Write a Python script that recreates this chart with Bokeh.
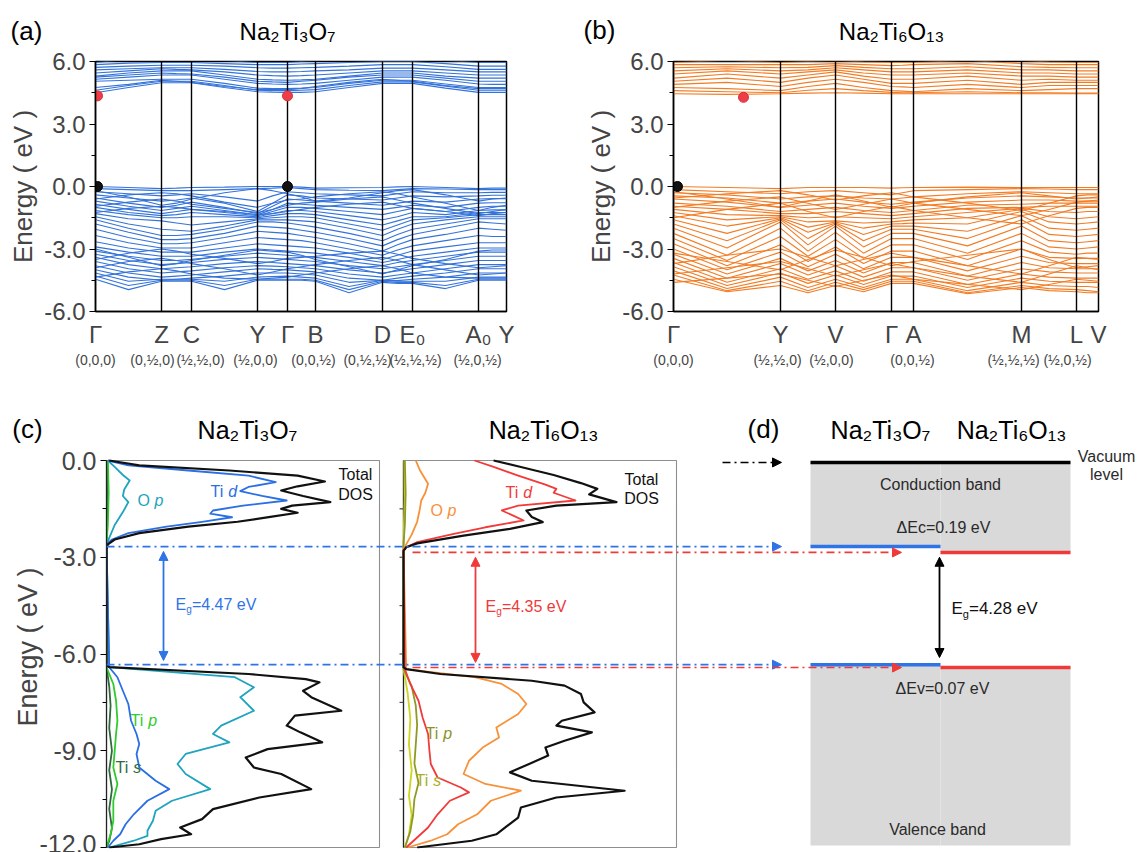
from bokeh.plotting import figure
from bokeh.layouts import column, row
from bokeh.models import (Range1d, FixedTicker, PrintfTickFormatter, LinearAxis, Label,
                          Arrow, NormalHead, CustomJSTickFormatter)
from bokeh.embed import file_html
from bokeh.resources import INLINE

FONT = "Liberation Sans"

# ======================= DATA =======================
# ---- (a) Na2Ti3O7 band structure ----
a_title = "Na₂Ti₃O₇"
a_hs_labels = ["Γ", "Z", "C", "Y", "Γ", "B", "D", "E₀", "A₀", "Y"]
a_hs_k = [0.0, 0.66, 0.96, 1.62, 1.92, 2.20, 2.87, 3.17, 3.83, 4.11]
a_coord_labels = ["(0,0,0)", "(0,½,0)", "(½,½,0)", "(½,0,0)", "(0,0,½)", "(0,½,½)", "(½,½,½)", "(½,0,½)"]
a_coord_k = [0.0, 0.57, 1.05, 1.60, 2.18, 2.72, 3.20, 3.82]
a_k = [0.0, 0.33, 0.66, 0.81, 0.96, 1.29, 1.62, 1.77, 1.92, 2.06, 2.20, 2.535, 2.87, 3.02, 3.17, 3.50, 3.83, 3.97, 4.11]
a_cb = [
    [4.50, 4.75, 4.98, 4.98, 4.98, 4.75, 4.55, 4.53, 4.52, 4.52, 4.55, 4.75, 4.95, 4.95, 4.95, 4.72, 4.52, 4.52, 4.52],
    [4.62, 4.85, 5.05, 5.05, 5.05, 4.85, 4.62, 4.60, 4.60, 4.62, 4.65, 4.85, 5.02, 5.02, 5.02, 4.82, 4.62, 4.62, 4.62],
    [4.75, 4.90, 5.10, 5.05, 5.00, 4.80, 4.65, 4.65, 4.65, 4.70, 4.80, 5.00, 5.15, 5.10, 5.05, 4.85, 4.70, 4.70, 4.70],
    [5.05, 5.10, 5.15, 5.15, 5.15, 4.95, 4.72, 4.70, 4.70, 4.72, 4.75, 4.95, 5.10, 5.10, 5.10, 4.92, 4.75, 4.75, 4.75],
    [5.15, 5.25, 5.35, 5.35, 5.35, 5.15, 4.95, 4.92, 4.90, 4.92, 4.95, 5.10, 5.25, 5.25, 5.25, 5.10, 4.92, 4.90, 4.90],
    [5.25, 5.35, 5.45, 5.42, 5.40, 5.25, 5.05, 5.02, 5.00, 5.05, 5.10, 5.25, 5.35, 5.35, 5.35, 5.20, 5.05, 5.05, 5.05],
    [5.30, 5.45, 5.55, 5.55, 5.55, 5.35, 5.15, 5.12, 5.10, 5.12, 5.15, 5.30, 5.45, 5.45, 5.45, 5.30, 5.20, 5.20, 5.20],
    [5.45, 5.55, 5.65, 5.62, 5.60, 5.50, 5.35, 5.32, 5.30, 5.32, 5.35, 5.45, 5.55, 5.55, 5.55, 5.45, 5.35, 5.35, 5.35],
    [5.60, 5.65, 5.70, 5.70, 5.70, 5.62, 5.52, 5.50, 5.50, 5.52, 5.55, 5.60, 5.68, 5.68, 5.68, 5.60, 5.50, 5.50, 5.50],
    [5.72, 5.78, 5.82, 5.82, 5.82, 5.78, 5.70, 5.68, 5.68, 5.70, 5.72, 5.78, 5.85, 5.85, 5.85, 5.75, 5.62, 5.62, 5.62],
    [5.85, 5.92, 5.95, 5.95, 5.95, 5.90, 5.85, 5.85, 5.85, 5.88, 5.90, 5.95, 6.00, 6.00, 6.00, 5.90, 5.78, 5.78, 5.78],
    [5.95, 6.10, 6.10, 6.10, 6.10, 6.05, 5.95, 5.95, 5.95, 6.00, 6.05, 6.10, 6.10, 6.10, 6.10, 6.05, 5.95, 5.95, 5.95],
]
a_vb = [
    [0.00, -0.05, -0.10, -0.08, -0.05, -0.03, 0.00, 0.00, 0.00, -0.03, -0.08, -0.06, -0.05, -0.02, 0.00, -0.05, -0.10, -0.08, -0.08],
    [-0.10, -0.15, -0.20, -0.20, -0.20, -0.15, -0.10, -0.08, -0.05, -0.10, -0.15, -0.18, -0.20, -0.15, -0.10, -0.12, -0.15, -0.15, -0.15],
    [-0.20, -0.50, -0.90, -0.80, -0.60, -0.30, -0.10, -0.20, -0.35, -0.50, -0.70, -0.55, -0.30, -0.20, -0.15, -0.40, -0.70, -0.60, -0.55],
    [-0.25, -0.35, -0.45, -0.40, -0.35, -0.50, -0.70, -0.45, -0.25, -0.30, -0.35, -0.40, -0.45, -0.35, -0.25, -0.30, -0.30, -0.28, -0.28],
    [-0.40, -0.55, -0.70, -0.65, -0.55, -0.80, -1.20, -0.80, -0.40, -0.45, -0.55, -0.60, -0.65, -0.55, -0.45, -0.50, -0.45, -0.42, -0.42],
    [-0.55, -0.80, -1.00, -0.90, -0.75, -1.00, -1.30, -0.95, -0.60, -0.65, -0.70, -0.80, -0.90, -0.80, -0.70, -0.75, -0.60, -0.58, -0.58],
    [-0.60, -0.40, -0.30, -0.35, -0.45, -0.75, -1.00, -0.80, -0.65, -0.60, -0.50, -0.35, -0.25, -0.35, -0.50, -0.80, -1.15, -1.00, -0.90],
    [-0.70, -0.95, -1.15, -1.05, -0.95, -1.15, -1.35, -1.10, -0.80, -0.85, -0.90, -1.00, -1.10, -1.00, -0.90, -1.00, -0.80, -0.78, -0.78],
    [-0.85, -1.10, -1.30, -1.20, -1.10, -1.25, -1.40, -1.20, -1.00, -1.00, -1.05, -1.20, -1.35, -1.20, -1.05, -1.20, -1.00, -0.95, -0.95],
    [-0.95, -0.75, -0.60, -0.70, -0.85, -1.05, -1.25, -1.10, -0.90, -0.80, -0.75, -0.60, -0.50, -0.65, -0.80, -1.05, -1.30, -1.20, -1.10],
    [-1.00, -1.25, -1.40, -1.35, -1.25, -1.35, -1.45, -1.30, -1.15, -1.15, -1.20, -1.40, -1.60, -1.45, -1.25, -1.35, -1.15, -1.12, -1.12],
    [-1.25, -1.05, -0.95, -1.00, -1.10, -1.20, -1.35, -1.30, -1.20, -1.10, -1.00, -0.85, -0.75, -0.90, -1.05, -1.20, -1.40, -1.30, -1.25],
    [-1.15, -1.35, -1.50, -1.50, -1.45, -1.45, -1.50, -1.40, -1.30, -1.30, -1.35, -1.60, -1.85, -1.65, -1.45, -1.45, -1.25, -1.25, -1.25],
    [-1.30, -1.55, -1.65, -1.75, -1.85, -1.70, -1.55, -1.50, -1.45, -1.45, -1.50, -1.80, -2.10, -1.85, -1.60, -1.50, -1.35, -1.35, -1.35],
    [-1.45, -1.80, -2.05, -2.10, -2.15, -1.90, -1.60, -1.60, -1.60, -1.65, -1.70, -2.00, -2.35, -2.05, -1.80, -1.60, -1.45, -1.45, -1.45],
    [-1.60, -2.00, -2.35, -2.35, -2.30, -2.05, -1.70, -1.70, -1.75, -1.85, -1.95, -2.25, -2.60, -2.30, -2.05, -1.80, -1.55, -1.55, -1.55],
    [-1.80, -2.20, -2.55, -2.55, -2.50, -2.25, -1.90, -1.95, -2.00, -2.10, -2.20, -2.50, -2.85, -2.55, -2.30, -2.00, -1.70, -1.75, -1.80],
    [-2.05, -2.45, -2.75, -2.75, -2.70, -2.45, -2.15, -2.20, -2.25, -2.35, -2.45, -2.75, -3.10, -2.80, -2.55, -2.30, -2.00, -2.05, -2.10],
    [-2.35, -2.70, -2.95, -2.95, -2.95, -2.70, -2.45, -2.50, -2.55, -2.60, -2.70, -3.00, -3.30, -3.05, -2.85, -2.60, -2.35, -2.40, -2.40],
    [-2.65, -2.95, -3.15, -3.15, -3.15, -2.95, -2.75, -2.80, -2.85, -2.90, -2.95, -3.20, -3.50, -3.30, -3.10, -2.90, -2.70, -2.70, -2.70],
    [-2.90, -3.15, -3.35, -3.35, -3.35, -3.15, -3.00, -3.05, -3.10, -3.15, -3.20, -3.40, -3.65, -3.50, -3.35, -3.15, -2.95, -2.95, -2.95],
    [-3.00, -3.40, -3.80, -3.70, -3.55, -3.30, -3.05, -3.10, -3.15, -3.30, -3.50, -3.85, -4.20, -4.00, -3.80, -3.50, -3.10, -3.05, -3.05],
    [-3.10, -3.35, -3.55, -3.55, -3.50, -3.35, -3.20, -3.25, -3.30, -3.35, -3.40, -3.60, -3.80, -3.65, -3.55, -3.35, -3.15, -3.15, -3.15],
    [-3.25, -3.55, -3.75, -3.70, -3.65, -3.50, -3.40, -3.45, -3.50, -3.55, -3.60, -3.80, -3.95, -3.85, -3.75, -3.55, -3.35, -3.35, -3.35],
    [-3.50, -3.20, -3.00, -3.10, -3.25, -3.45, -3.70, -3.60, -3.45, -3.40, -3.35, -3.20, -3.10, -3.25, -3.45, -3.70, -3.90, -3.85, -3.80],
    [-3.40, -3.75, -3.95, -3.90, -3.85, -3.70, -3.60, -3.65, -3.70, -3.75, -3.80, -4.00, -4.15, -4.05, -3.95, -3.75, -3.55, -3.55, -3.55],
    [-3.60, -3.95, -4.15, -4.10, -4.05, -3.90, -3.80, -3.82, -3.85, -3.90, -3.95, -4.20, -4.35, -4.25, -4.15, -3.95, -3.75, -3.75, -3.75],
    [-3.90, -3.60, -3.45, -3.55, -3.70, -3.95, -4.25, -4.10, -3.95, -3.85, -3.75, -3.55, -3.40, -3.55, -3.75, -4.00, -4.25, -4.20, -4.15],
    [-3.80, -4.15, -4.35, -4.30, -4.25, -4.10, -3.95, -3.98, -4.00, -4.05, -4.10, -4.40, -4.50, -4.40, -4.30, -4.15, -3.95, -3.95, -3.95],
    [-4.00, -4.35, -4.50, -4.45, -4.40, -4.30, -4.15, -4.15, -4.15, -4.20, -4.25, -4.60, -4.50, -4.52, -4.45, -4.35, -4.15, -4.15, -4.15],
    [-4.35, -4.10, -3.95, -4.05, -4.20, -4.40, -4.45, -4.40, -4.35, -4.25, -4.15, -3.95, -3.80, -3.95, -4.15, -4.35, -4.40, -4.40, -4.40],
    [-4.15, -4.55, -4.45, -4.45, -4.45, -4.55, -4.35, -4.32, -4.30, -4.35, -4.40, -4.80, -4.50, -4.55, -4.55, -4.55, -4.35, -4.35, -4.35],
    [-4.30, -4.75, -4.50, -4.50, -4.50, -4.75, -4.45, -4.45, -4.45, -4.45, -4.50, -4.95, -4.55, -4.60, -4.60, -4.75, -4.45, -4.45, -4.45],
    [-4.45, -4.95, -4.55, -4.55, -4.55, -4.95, -4.50, -4.50, -4.50, -4.50, -4.55, -5.10, -4.60, -4.65, -4.65, -4.90, -4.50, -4.50, -4.50],
]
a_cbm_k, a_cbm_e = [0.02, 1.92], [4.35, 4.35]
a_vbm_k, a_vbm_e = [0.02, 1.92], [0.0, 0.0]

# ---- (b) Na2Ti6O13 band structure ----
b_title = "Na₂Ti₆O₁₃"
b_hs_labels = ["Γ", "Y", "V", "Γ", "A", "M", "L", "V"]
b_hs_k = [0.0, 1.07, 1.62, 2.18, 2.40, 3.48, 4.03, 4.25]
b_coord_labels = ["(0,0,0)", "(½,½,0)", "(½,0,0)", "(0,0,½)", "(½,½,½)", "(½,0,½)"]
b_coord_k = [0.0, 1.04, 1.58, 2.39, 3.40, 3.94]
b_k = [0.0, 0.535, 1.07, 1.345, 1.62, 1.90, 2.18, 2.29, 2.40, 2.94, 3.48, 3.755, 4.03, 4.14, 4.25]
b_cb = [
    [4.45, 4.42, 4.45, 4.48, 4.50, 4.48, 4.45, 4.45, 4.45, 4.45, 4.45, 4.45, 4.45, 4.45, 4.45],
    [4.60, 4.55, 4.50, 4.62, 4.70, 4.60, 4.52, 4.50, 4.50, 4.55, 4.50, 4.50, 4.48, 4.48, 4.48],
    [4.75, 4.70, 4.60, 4.80, 4.95, 4.75, 4.60, 4.58, 4.55, 4.70, 4.60, 4.65, 4.70, 4.70, 4.70],
    [4.90, 5.00, 4.80, 5.00, 5.15, 5.00, 4.80, 4.78, 4.75, 4.90, 4.75, 4.85, 4.85, 4.85, 4.85],
    [5.05, 5.20, 5.00, 5.20, 5.35, 5.15, 4.95, 4.95, 4.95, 5.10, 4.90, 5.00, 5.00, 5.00, 5.00],
    [5.20, 5.40, 5.20, 5.35, 5.50, 5.30, 5.15, 5.15, 5.15, 5.30, 5.10, 5.15, 5.10, 5.10, 5.10],
    [5.40, 5.55, 5.40, 5.50, 5.60, 5.45, 5.35, 5.35, 5.35, 5.45, 5.30, 5.30, 5.25, 5.25, 5.25],
    [5.55, 5.65, 5.55, 5.60, 5.70, 5.60, 5.50, 5.50, 5.50, 5.60, 5.45, 5.45, 5.40, 5.40, 5.40],
    [5.70, 5.75, 5.70, 5.72, 5.80, 5.72, 5.65, 5.65, 5.65, 5.75, 5.60, 5.60, 5.55, 5.55, 5.55],
    [5.85, 5.85, 5.85, 5.85, 5.90, 5.85, 5.80, 5.82, 5.85, 5.90, 5.75, 5.72, 5.70, 5.70, 5.70],
    [5.95, 6.05, 5.95, 6.00, 6.05, 5.98, 5.95, 5.95, 5.95, 6.05, 5.90, 5.85, 5.85, 5.85, 5.85],
    [6.05, 6.10, 6.10, 6.10, 6.10, 6.10, 6.10, 6.10, 6.10, 6.10, 6.05, 5.98, 5.95, 5.95, 5.95],
]
b_vb = [
    [0.00, -0.05, -0.10, -0.05, -0.05, -0.05, -0.08, -0.06, -0.05, -0.03, -0.05, -0.05, -0.05, -0.05, -0.05],
    [-0.15, -0.25, -0.35, -0.25, -0.20, -0.30, -0.40, -0.30, -0.20, -0.15, -0.10, -0.12, -0.15, -0.15, -0.15],
    [-0.25, -0.60, -1.00, -0.70, -0.40, -0.70, -1.00, -0.90, -0.80, -0.50, -0.30, -0.45, -0.60, -0.55, -0.50],
    [-0.30, -0.40, -0.60, -0.50, -0.45, -0.55, -0.60, -0.55, -0.50, -0.35, -0.25, -0.30, -0.35, -0.35, -0.35],
    [-0.45, -0.55, -0.80, -0.70, -0.60, -0.75, -0.85, -0.80, -0.75, -0.55, -0.45, -0.50, -0.55, -0.55, -0.55],
    [-0.55, -0.35, -0.20, -0.40, -0.65, -0.45, -0.30, -0.40, -0.50, -0.80, -1.15, -0.80, -0.45, -0.40, -0.40],
    [-0.60, -0.75, -1.00, -0.90, -0.80, -0.95, -1.05, -1.00, -0.95, -0.75, -0.65, -0.65, -0.70, -0.70, -0.70],
    [-0.80, -0.95, -1.20, -1.10, -1.00, -1.15, -1.25, -1.20, -1.15, -0.90, -0.85, -0.80, -0.80, -0.80, -0.80],
    [-0.95, -1.10, -1.30, -1.30, -1.20, -1.30, -1.40, -1.35, -1.30, -1.05, -1.00, -0.95, -0.95, -0.95, -0.95],
    [-1.00, -0.70, -0.50, -0.80, -1.10, -0.85, -0.60, -0.70, -0.80, -1.10, -1.40, -1.10, -0.75, -0.70, -0.65],
    [-1.10, -1.35, -1.40, -1.50, -1.45, -1.50, -1.55, -1.50, -1.45, -1.25, -1.05, -1.20, -1.25, -1.20, -1.20],
    [-1.25, -1.60, -1.45, -1.70, -1.65, -1.75, -1.70, -1.65, -1.60, -1.50, -1.10, -1.45, -1.55, -1.50, -1.45],
    [-1.40, -1.90, -1.50, -1.95, -1.70, -2.00, -1.80, -1.78, -1.75, -1.80, -1.20, -1.70, -1.80, -1.75, -1.70],
    [-1.50, -1.10, -0.80, -1.20, -1.50, -1.20, -0.95, -1.05, -1.15, -1.50, -1.80, -1.40, -1.05, -1.00, -1.00],
    [-1.60, -2.25, -1.55, -2.20, -1.75, -2.30, -1.90, -1.90, -1.90, -2.15, -1.40, -2.00, -2.10, -2.05, -2.00],
    [-1.80, -2.60, -1.60, -2.50, -1.80, -2.60, -2.05, -2.05, -2.05, -2.50, -1.60, -2.30, -2.40, -2.35, -2.30],
    [-2.00, -2.95, -1.70, -2.80, -1.90, -2.90, -2.25, -2.25, -2.25, -2.85, -1.90, -2.60, -2.70, -2.65, -2.60],
    [-2.25, -3.30, -2.00, -3.10, -2.20, -3.20, -2.50, -2.50, -2.50, -3.20, -2.25, -2.90, -3.00, -2.95, -2.90],
    [-2.50, -3.55, -2.40, -3.35, -2.55, -3.45, -2.80, -2.80, -2.80, -3.50, -2.60, -3.15, -3.25, -3.20, -3.20],
    [-2.75, -3.80, -2.80, -3.60, -2.90, -3.70, -3.10, -3.10, -3.10, -3.80, -3.00, -3.40, -3.45, -3.45, -3.45],
    [-3.00, -4.00, -3.15, -3.85, -3.25, -3.95, -3.40, -3.40, -3.40, -4.05, -3.35, -3.65, -3.70, -3.70, -3.70],
    [-3.20, -3.60, -4.00, -3.50, -3.05, -3.40, -3.80, -3.70, -3.60, -3.30, -3.00, -3.50, -3.90, -3.85, -3.80],
    [-3.25, -4.20, -3.45, -4.05, -3.55, -4.15, -3.65, -3.65, -3.65, -4.30, -3.65, -3.90, -3.95, -3.95, -3.95],
    [-3.45, -4.40, -3.70, -4.25, -3.80, -4.35, -3.90, -3.90, -3.90, -4.50, -3.95, -4.10, -4.15, -4.15, -4.15],
    [-3.70, -3.30, -3.00, -3.40, -3.80, -3.50, -3.20, -3.30, -3.40, -3.80, -4.20, -3.80, -3.40, -3.45, -3.50],
    [-3.65, -4.60, -3.95, -4.45, -4.05, -4.55, -4.10, -4.10, -4.10, -4.70, -4.20, -4.35, -4.40, -4.40, -4.40],
    [-3.85, -4.75, -4.15, -4.65, -4.25, -4.70, -4.30, -4.30, -4.30, -4.85, -4.40, -4.55, -4.60, -4.60, -4.60],
    [-4.20, -3.90, -3.60, -3.95, -4.30, -4.00, -3.70, -3.80, -3.90, -4.30, -4.60, -4.20, -3.80, -3.90, -4.00],
    [-4.05, -4.90, -4.35, -4.85, -4.45, -4.85, -4.45, -4.45, -4.45, -5.00, -4.60, -4.75, -4.80, -4.80, -4.85],
    [-4.60, -4.40, -4.20, -4.50, -4.80, -4.50, -4.25, -4.35, -4.45, -4.70, -4.95, -4.70, -4.45, -4.50, -4.55],
    [-4.25, -5.00, -4.55, -5.00, -4.60, -4.95, -4.55, -4.55, -4.55, -5.10, -4.75, -4.90, -4.95, -5.00, -5.05],
    [-4.45, -5.05, -4.75, -5.10, -4.75, -5.05, -4.65, -4.65, -4.65, -5.15, -4.85, -5.00, -5.05, -5.10, -5.10],
]
b_cbm_k, b_cbm_e = [0.70], [4.28]
b_vbm_k, b_vbm_e = [0.04], [0.0]

band_yticks = [-6, -3, 0, 3, 6]
band_yminor = [-4.5, -1.5, 1.5, 4.5]

# ---- (c) DOS (energy in eV, DOS in % of panel width) ----
c1_title = "Na₂Ti₃O₇"
c1_total_e = [0.00, -0.15, -0.31, -0.47, -0.65, -0.80, -0.93, -1.10, -1.29, -1.40, -1.50, -1.62, -1.75, -1.90, -2.05, -2.25, -2.45, -2.60, -2.75,
              -6.35, -6.41, -6.62, -6.78, -6.88, -7.14, -7.34, -7.76, -7.91, -8.22, -8.43, -8.74, -8.95, -9.21, -9.52, -9.72, -10.19, -10.45,
              -10.81, -11.12, -11.38, -11.59, -11.74, -11.90, -12.00]
c1_total = [1, 12, 45, 70, 80, 70, 64, 72, 82, 68, 64, 70, 60, 48, 30, 12, 3, 0.5, 0,
            0, 1, 52, 73, 78, 72, 75, 86, 69, 66, 71, 79, 59, 51, 54, 64, 75, 56, 39, 35, 27, 31, 20, 12, 1]
c1_tid_e = [0.00, -0.15, -0.31, -0.47, -0.67, -0.82, -0.95, -1.10, -1.24, -1.40, -1.55, -1.65, -1.76, -1.90, -2.05, -2.25, -2.45, -2.60,
            -6.41, -6.72, -7.14, -7.55, -8.07, -8.48, -8.79, -9.10, -9.52, -9.93, -10.19, -10.55, -10.97, -11.28, -11.59, -11.79, -12.00]
c1_tid = [0.5, 8, 30, 52, 62, 52, 49, 57, 66, 50, 39, 38, 46, 35, 22, 8, 2, 0,
          1, 4, 6, 8, 9, 11, 12, 11, 12, 18, 23, 15, 10, 7, 5, 2.5, 0.5]
c1_op_e = [0.00, -0.20, -0.45, -0.62, -0.90, -1.10, -1.29, -1.60, -2.00, -2.40, -2.60,
           -6.41, -6.72, -7.03, -7.34, -7.76, -8.22, -8.48, -8.74, -9.10, -9.41, -9.72, -10.19, -10.55, -10.86, -11.17, -11.48, -11.64, -11.79, -12.00]
c1_op = [0.5, 3, 6, 8.5, 6.5, 6, 8, 6, 3, 1, 0,
         1, 47, 54, 49, 54, 42, 39, 45, 29, 26, 29, 38, 24, 18, 17, 15, 15, 10, 1]
c1_tip_e = [0.0, -1.0, -2.0, -2.6, -6.41, -6.93, -7.45, -8.07, -8.48, -9.00, -9.52, -10.03, -10.55, -11.17, -11.59, -12.0]
c1_tip = [0.5, 0.8, 0.5, 0, 0, 2.5, 3.5, 4, 3.5, 3, 2.5, 4, 2.5, 2.5, 1.5, 0]
c1_tis_e = [0.0, -1.2, -2.6, -6.41, -7.0, -7.6, -8.3, -9.0, -9.6, -10.2, -10.8, -11.4, -11.8, -12.0]
c1_tis = [0.3, 0.4, 0, 0, 1, 1.5, 1, 2, 1, 2, 1, 2, 1, 0]

c2_title = "Na₂Ti₆O₁₃"
c2_total_e = [0.00, -0.20, -0.45, -0.70, -0.88, -1.05, -1.29, -1.40, -1.55, -1.75, -1.91, -2.12, -2.33, -2.57, -2.69, -2.80,
              -6.41, -6.47, -6.62, -6.83, -6.98, -7.24, -7.50, -7.81, -8.07, -8.22, -8.43, -8.69, -8.90, -9.15, -9.41, -9.67, -9.93,
              -10.24, -10.45, -10.76, -11.07, -11.33, -11.59, -11.79, -12.00]
c2_total = [33, 43, 55, 65, 71, 68, 78, 56, 45, 47, 51, 39, 22, 5, 1, 0,
            0, 1, 13.5, 47, 59, 65, 66, 70, 58, 56, 69, 59, 52, 53, 46, 39, 47, 81, 56, 43, 42, 38, 34, 25, 5]
c2_tid_e = [0.00, -0.20, -0.47, -0.75, -0.88, -1.00, -1.24, -1.40, -1.55, -1.70, -1.86, -2.07, -2.28, -2.53, -2.69, -2.80,
            -6.47, -6.93, -7.45, -7.97, -8.48, -9.00, -9.41, -9.83, -10.14, -10.29, -10.55, -10.97, -11.38, -11.69, -12.00]
c2_tid = [26, 33, 42, 52, 56, 55, 63, 42, 36, 40, 44, 30, 18, 5, 1, 0,
          0.5, 2.5, 5.5, 7, 9, 9.5, 10, 12.5, 21, 24, 17, 12.5, 9, 5, 1]
c2_op_e = [0.00, -0.30, -0.72, -1.00, -1.24, -1.50, -1.90, -2.30, -2.60, -2.75,
           -6.47, -6.72, -6.93, -7.24, -7.55, -7.86, -8.28, -8.59, -8.90, -9.31, -9.72, -10.03, -10.24, -10.55, -10.97, -11.28, -11.59, -11.79, -12.00]
c2_op = [4.5, 6, 9, 8, 6.5, 6, 5, 3, 1, 0,
         1, 26, 36, 42, 45, 42, 34, 35, 29, 24, 22, 30, 43, 32, 27, 20, 16, 10, 1.5]
c2_tip_e = [0.0, -1.0, -2.0, -2.6, -6.47, -7.0, -7.6, -8.2, -8.8, -9.4, -10.0, -10.5, -11.0, -11.5, -12.0]
c2_tip = [0.5, 0.8, 0.5, 0, 0, 3, 4.5, 5, 4.5, 4, 5.5, 4, 3.5, 2.5, 0.5]
c2_tis_e = [0.0, -1.2, -2.6, -6.47, -7.2, -8.0, -8.8, -9.6, -10.4, -11.0, -11.6, -12.0]
c2_tis = [0.3, 0.4, 0, 0, 1.5, 2.5, 2, 3, 2, 3, 2, 0.5]

dos_yticks = [0, -3, -6, -9, -12]
dos_yminor = [-1.5, -4.5, -7.5, -10.5]
gap_values = ["4.47", "4.35", "4.28"]

# ---- (d) band alignment ----
align_names = ["Na₂Ti₃O₇", "Na₂Ti₆O₁₃"]
align_cbm = [-2.67, -2.85]
align_vbm = [-6.33, -6.42]
align_vacuum = -0.06
align_bottom = -11.94
delta_ec = "0.19"
delta_ev = "0.07"

# ======================= STYLE / LAYOUT =======================
A_BLUE = "#3473da"
B_ORANGE = "#f27c24"
BLUE = "#2f74e6"
RED = "#f03a3a"
GREY_FRAME = "#8f8f8f"
PAGE_W = 1143


def name_formatter(pos, labs):
    return CustomJSTickFormatter(args=dict(pos=pos, labs=labs), code="""
        let best = 0, d = 1e9;
        for (let i = 0; i < pos.length; i++) {
            const dd = Math.abs(pos[i] - tick);
            if (dd < d) { d = dd; best = i; }
        }
        return labs[best];
    """)


def put(p, x, y, text, size, color="black", align="center", style="normal", baseline="middle"):
    p.add_layout(Label(x=x, y=y, text=text, text_font=FONT, text_font_size=size,
                       text_color=color, text_align=align, text_baseline=baseline,
                       text_font_style=style))


def header(height, y0):
    # a strip whose data coordinates are page pixels, for panel letters and titles
    h = figure(width=PAGE_W, height=height, output_backend="svg", toolbar_location=None,
               x_range=Range1d(0, PAGE_W), y_range=Range1d(y0 + height, y0),
               x_axis_type=None, y_axis_type=None, min_border=0, outline_line_color=None,
               frame_align=False)
    h.grid.visible = False
    return h


TOP_HDR = 46
BAND_H = 349


def band_figure(width, bl, br, hs_k, hs_labels, coord_k, coord_labels, k, cb, vb, color,
                cbm, vbm):
    p = figure(width=width, height=BAND_H, output_backend="svg", toolbar_location=None,
               x_range=Range1d(0, hs_k[-1]), y_range=Range1d(-6, 6),
               min_border_left=bl, min_border_right=br, min_border_top=61 - TOP_HDR, min_border_bottom=84,
               outline_line_color="black", outline_line_width=1.5, frame_align=False)
    p.grid.visible = False
    p.multi_line(xs=[k] * len(cb), ys=cb, line_color=color, line_width=1.1)
    p.multi_line(xs=[k] * len(vb), ys=vb, line_color=color, line_width=1.1)
    inner = hs_k[1:-1]
    p.segment(x0=inner, y0=[-6] * len(inner), x1=inner, y1=[6] * len(inner),
              line_color="black", line_width=1.4)
    p.scatter(cbm[0], cbm[1], size=10, fill_color="#ee3d48", line_color="#d83038")
    p.scatter(vbm[0], vbm[1], size=10, fill_color="#111111", line_color="#000000")

    yax = p.yaxis[0]
    yax.ticker = FixedTicker(ticks=band_yticks, minor_ticks=band_yminor)
    yax.formatter = PrintfTickFormatter(format="%.1f")
    yax.axis_label = "Energy ( eV )"
    yax.axis_label_text_font = FONT
    yax.axis_label_text_font_size = "26px"
    yax.axis_label_text_font_style = "normal"
    yax.axis_label_standoff = 3
    yax.major_label_text_font = FONT
    yax.major_label_text_font_size = "24px"
    yax.major_label_standoff = 4
    yax.major_tick_out = 6
    yax.major_tick_in = 0
    yax.minor_tick_out = 4
    yax.minor_tick_in = 0
    yax.axis_line_width = 1.5
    yax.major_tick_line_width = 1.2

    xax = p.xaxis[0]
    xax.ticker = FixedTicker(ticks=hs_k)
    xax.formatter = name_formatter(hs_k, hs_labels)
    xax.major_tick_line_color = None
    xax.minor_tick_line_color = None
    xax.major_label_text_font = FONT
    xax.major_label_text_font_size = "24px"
    xax.major_label_standoff = 3
    xax.axis_line_width = 1.5

    ax2 = LinearAxis(ticker=FixedTicker(ticks=coord_k), formatter=name_formatter(coord_k, coord_labels),
                     axis_line_color=None, major_tick_line_color=None, minor_tick_line_color=None,
                     major_label_text_font=FONT, major_label_text_font_size="14px",
                     major_label_standoff=-5)
    p.add_layout(ax2, "below")
    return p


# ---- top header ----
h_top = header(TOP_HDR, 0)
put(h_top, 26, 30, "(a)", "26px")
put(h_top, 287, 31, a_title, "24px")
put(h_top, 599, 29, "(b)", "26px")
put(h_top, 891, 31, b_title, "24px")

# (a): frame x 95..506
fa = band_figure(575, 95, 69, a_hs_k, a_hs_labels, a_coord_k, a_coord_labels, a_k, a_cb, a_vb,
                 A_BLUE, (a_cbm_k, a_cbm_e), (a_vbm_k, a_vbm_e))
# (b): frame x 673..1098
fb = band_figure(PAGE_W - 575, 98, 45, b_hs_k, b_hs_labels, b_coord_k, b_coord_labels, b_k, b_cb, b_vb,
                 B_ORANGE, (b_cbm_k, b_cbm_e), (b_vbm_k, b_vbm_e))

# ---- bottom header ----
BOT_HDR_Y0 = TOP_HDR + BAND_H      # 395
BOT_HDR_H = 50
h_bot = header(BOT_HDR_H, BOT_HDR_Y0)
put(h_bot, 27, 428, "(c)", "26px")
put(h_bot, 247, 429, c1_title, "25px")
put(h_bot, 543, 429, c2_title, "25px")
put(h_bot, 763, 428, "(d)", "26px")
put(h_bot, 880, 429, align_names[0], "25px")
put(h_bot, 1011, 429, align_names[1], "25px")

# ======================= bottom figure (c) + (d) =======================
C_LEFT = 106
PX_PER_PCT = 2.73
PX_PER_EV = 32.25
FC_TOP = BOT_HDR_Y0 + BOT_HDR_H    # 445
FC_H = 852 - FC_TOP
Y_TOP = (460 - FC_TOP) / PX_PER_EV
Y_BOT = -(848 - 460) / PX_PER_EV
X_MAX = (PAGE_W - C_LEFT) / PX_PER_PCT


def ex(px):
    return (px - C_LEFT) / PX_PER_PCT


def er(py):  # page px inside panel -> energy
    return -(py - 460) / PX_PER_EV


fc = figure(width=PAGE_W, height=FC_H, output_backend="svg", toolbar_location=None,
            x_range=Range1d(0, X_MAX), y_range=Range1d(Y_BOT, Y_TOP), x_axis_type=None,
            min_border_left=C_LEFT, min_border_right=0, min_border_top=0, min_border_bottom=852 - 848,
            outline_line_color=None, frame_align=False)
fc.grid.visible = False
yc = fc.yaxis[0]
yc.bounds = (-12, 0)
yc.ticker = FixedTicker(ticks=dos_yticks, minor_ticks=dos_yminor)
yc.formatter = PrintfTickFormatter(format="%.1f")
yc.axis_label = "Energy ( eV )"
yc.axis_label_text_font = FONT
yc.axis_label_text_font_size = "27px"
yc.axis_label_text_font_style = "normal"
yc.axis_label_standoff = -6
yc.major_label_text_font = FONT
yc.major_label_text_font_size = "25px"
yc.major_label_standoff = 4
yc.major_tick_out = 6
yc.major_tick_in = 0
yc.minor_tick_out = 4
yc.minor_tick_in = 0
yc.axis_line_color = "#222222"
yc.axis_line_width = 1.3

C1_X0 = 0.0
C2_X0 = ex(403)
DX0, DXM, DX1 = ex(810), ex(940), ex(1070)

# panel (d) grey blocks
fc.quad(left=[DX0, DXM], right=[DXM, DX1], top=[align_vacuum, align_vacuum], bottom=align_cbm,
        fill_color="#d9d9d9", line_color=None)
fc.quad(left=[DX0, DXM], right=[DXM, DX1], top=align_vbm, bottom=[align_bottom, align_bottom],
        fill_color="#d9d9d9", line_color=None)

# DOS frames
fc.quad(left=[C1_X0, C2_X0], right=[C1_X0 + 100, C2_X0 + 100], top=[0, 0], bottom=[-12, -12],
        fill_color=None, line_color=GREY_FRAME, line_width=1.1)
fc.segment(x0=[C2_X0], y0=[0], x1=[C2_X0], y1=[-12], line_color="#222222", line_width=1.3)
tick_vals = dos_yminor + dos_yticks[1:-1]
fc.segment(x0=[C2_X0 - 4 / PX_PER_PCT] * len(tick_vals), y0=tick_vals, x1=[C2_X0] * len(tick_vals),
           y1=tick_vals, line_color="#444444", line_width=1.1)


def dos(x0, vals, es, color, width):
    fc.line(x=[x0 + v for v in vals], y=es, line_color=color, line_width=width, line_join="round")


dos(C1_X0, c1_tis, c1_tis_e, "#2f6b3c", 1.8)
dos(C1_X0, c1_tip, c1_tip_e, "#2ecc2e", 1.8)
dos(C1_X0, c1_op, c1_op_e, "#1fa3bf", 1.8)
dos(C1_X0, c1_tid, c1_tid_e, "#2b6fe4", 1.8)
dos(C1_X0, c1_total, c1_total_e, "#111111", 2.2)

dos(C2_X0, c2_tis, c2_tis_e, "#ccd41e", 1.8)
dos(C2_X0, c2_tip, c2_tip_e, "#8e9a24", 1.8)
dos(C2_X0, c2_op, c2_op_e, "#f7913a", 1.8)
dos(C2_X0, c2_tid, c2_tid_e, "#f23a3a", 1.8)
dos(C2_X0, c2_total, c2_total_e, "#111111", 2.2)

# panel (d) level lines
fc.segment(x0=[DX0], y0=[align_vacuum], x1=[DX1], y1=[align_vacuum], line_color="black", line_width=3.5)
fc.segment(x0=[DX0, DX0], y0=[align_cbm[0], align_vbm[0]], x1=[DXM, DXM], y1=[align_cbm[0], align_vbm[0]],
           line_color=BLUE, line_width=3.5)
fc.segment(x0=[DXM, DXM], y0=[align_cbm[1], align_vbm[1]], x1=[DX1, DX1], y1=[align_cbm[1], align_vbm[1]],
           line_color=RED, line_width=3.5)

# dash-dot guides with arrowheads
DASH = "8 4 2 4"


def guide(x0, x1, y, color):
    fc.add_layout(Arrow(x_start=x0, y_start=y, x_end=x1, y_end=y, line_color=color, line_width=1.6,
                        line_dash=DASH,
                        end=NormalHead(size=9, fill_color=color, line_color=color, line_width=1)))


guide(C1_X0, ex(781), align_cbm[0], BLUE)
guide(C1_X0, ex(781), align_vbm[0], BLUE)
guide(ex(412), ex(901), align_cbm[1], RED)
guide(ex(412), ex(901), align_vbm[1], RED)
guide(ex(722), ex(781), align_vacuum, "black")


def gap_arrow(x, y0, y1, color):
    fc.add_layout(Arrow(x_start=x, y_start=y0, x_end=x, y_end=y1, line_color=color, line_width=1.8,
                        start=NormalHead(size=9, fill_color=color, line_color=color, line_width=1),
                        end=NormalHead(size=9, fill_color=color, line_color=color, line_width=1)))


gap_arrow(ex(163), align_cbm[0] - 0.15, align_vbm[0] + 0.13, BLUE)
gap_arrow(ex(475), align_cbm[1] - 0.15, align_vbm[1] + 0.16, RED)
gap_arrow(ex(939), align_cbm[1] - 0.15, align_vbm[0] + 0.22, "black")


def eg_label(px_left, e, val, color, size):
    s = float(size.replace("px", ""))
    put(fc, ex(px_left), e, "E", size, color, align="left")
    put(fc, ex(px_left + 0.667 * s), e - 5 / PX_PER_EV, "g", "%dpx" % int(s * 0.65), color, align="left")
    put(fc, ex(px_left + 0.667 * s + 0.36 * s), e, "=" + val + " eV", size, color, align="left")


eg_label(175, er(604), gap_values[0], BLUE, "16px")
eg_label(485, er(606), gap_values[1], RED, "16px")
eg_label(951, er(608), gap_values[2], "#111111", "17px")


def species(px_left, e, base, orb, color):
    put(fc, ex(px_left), e, base, "16px", color, align="left")
    off = (0.833 + 0.278) * 16 if base == "Ti" else (0.778 + 0.278) * 16
    put(fc, ex(px_left + off), e, orb, "16px", color, align="left", style="italic")


species(210, er(491), "Ti", "d", "#2b6fe4")
species(137, er(500), "O", "p", "#1fa3bf")
species(130, er(720), "Ti", "p", "#2ecc2e")
species(115, er(767), "Ti", "s", "#2f6b3c")
species(505, er(492), "Ti", "d", "#f23a3a")
species(430, er(510), "O", "p", "#f7913a")
species(425, er(733), "Ti", "p", "#8a9424")
species(415, er(780), "Ti", "s", "#a8ae22")

put(fc, ex(355), er(474), "Total", "16px", "#111111")
put(fc, ex(355), er(494), "DOS", "16px", "#111111")
put(fc, ex(641), er(479), "Total", "16px", "#111111")
put(fc, ex(641), er(498), "DOS", "16px", "#111111")

TXT = "#2a2a2a"
put(fc, ex(940), er(484), "Conduction band", "16px", TXT)
put(fc, ex(943), er(527), "ΔEc=" + delta_ec + " eV", "16px", TXT)
put(fc, ex(942), er(688), "ΔEv=" + delta_ev + " eV", "16px", TXT)
put(fc, ex(937), er(829), "Valence band", "16px", TXT)
put(fc, ex(1106), er(456), "Vacuum", "16px", TXT)
put(fc, ex(1106), er(474), "level", "16px", TXT)

layout = column(h_top, row(fa, fb), h_bot, fc)
open("out.html", "w").write(file_html(layout, INLINE))
